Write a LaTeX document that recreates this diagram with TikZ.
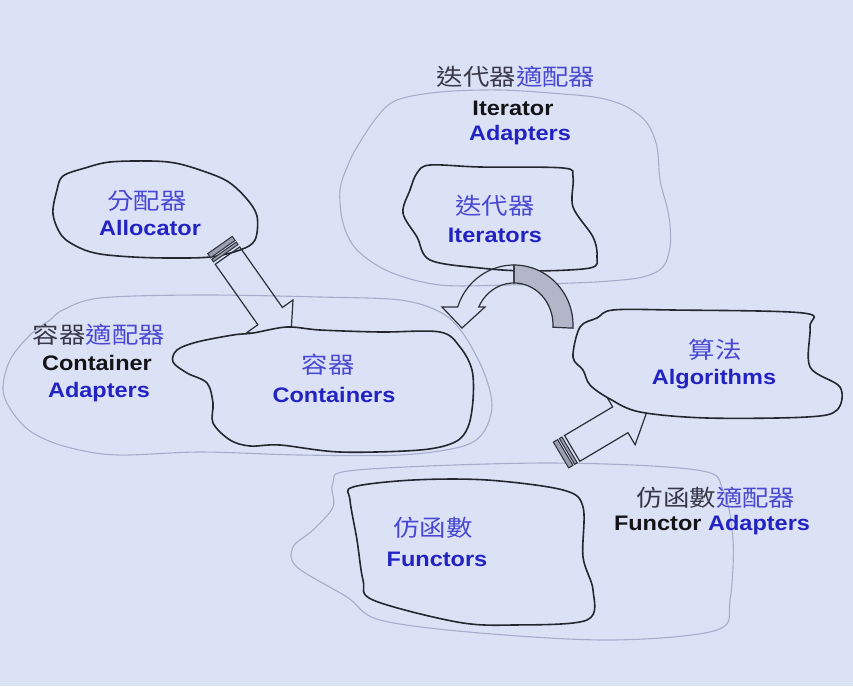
\documentclass[tikz,border=0pt]{standalone}
\usepackage{fontspec}
\newfontfamily\enfont[FakeStretch=1.12]{Liberation Sans}
\newfontfamily\cjkfont[FakeStretch=1.15]{Noto Sans CJK TC}
\definecolor{bg}{HTML}{DCE2F6}
\definecolor{cloudline}{HTML}{23272F}
\definecolor{lightline}{HTML}{A4AECB}
\definecolor{enblue}{HTML}{2323C4}
\definecolor{zhblue}{HTML}{4848D2}
\definecolor{endark}{HTML}{141418}
\definecolor{zhdark}{HTML}{383848}
\definecolor{stripe}{HTML}{9A9EB0}
\definecolor{archgray}{HTML}{B2B6C8}
\definecolor{arrline}{HTML}{2C3038}
\begin{document}
\begin{tikzpicture}[x=1pt,y=-1pt,
  en/.style={font=\enfont\bfseries\fontsize{21}{21}\selectfont, inner sep=0pt, anchor=base, text=enblue},
  zh/.style={font=\cjkfont\fontsize{23}{23}\selectfont, inner sep=0pt, anchor=base, text=zhblue},
  darkcloud/.style={draw=cloudline, line width=1.6pt, fill=bg, line join=round},
  lightcloud/.style={draw=lightline, line width=1.1pt},
  blockarrow/.style={draw=arrline, line width=1.2pt, line join=miter},
  stripebar/.style={draw=arrline, line width=1pt, fill=stripe}]
\fill[bg] (0,0) rectangle (853,686);
\useasboundingbox (0,0) rectangle (853,686);

% light (adapter) clouds
\draw[lightcloud] plot[smooth cycle, tension=0.55] coordinates {(63,310) (100,298) (200,295) (320,297) (400,300) (440,312) (462,332) (483,370) (492,405) (483,433) (460,447) (400,455) (300,455) (200,452) (117,455) (67,447) (33,433) (13,413) (3,390) (10,360) (30,335) (50,320)};
\draw[lightcloud] plot[smooth cycle, tension=0.55] coordinates {(440,92) (500,90) (563,94) (600,98) (627,107) (647,123) (657,147) (660,180) (667,207) (670,225) (670,247) (663,267) (643,277) (610,281) (573,283) (507,285) (440,285) (390,272) (357,250) (343,223) (340,190) (348,165) (357,147) (377,117) (397,100)};
\draw[lightcloud] plot[smooth cycle, tension=0.55] coordinates {(357,470) (547,463) (697,470) (723,490) (733,540) (730,600) (717,630) (613,640) (480,633) (380,620) (347,597) (297,567) (293,547) (313,530) (333,507) (333,483)};

% source clouds
\draw[darkcloud] plot[smooth cycle, tension=0.55] coordinates {(57,190) (63,176) (85,168) (110,162) (150,161) (175,163) (200,170) (227,181) (246,198) (257,216) (255,240) (240,250) (210,257) (170,258) (133,257) (100,254) (80,248) (62,236) (53,214)};
\draw[darkcloud] plot[smooth cycle, tension=0.55] coordinates {(430,165) (480,167) (563,168) (573,177) (573,207) (593,237) (597,257) (590,268) (530,271) (480,268) (430,260) (417,237) (403,213) (410,190) (417,173)};

% block arrow: Allocator -> Containers
\begin{scope}[shift={(220,245)}, rotate=-54.8]
  \coordinate (allocTail) at (0,0);
  \coordinate (allocHead) at (122,0);
  \draw[blockarrow] (13,-15) -- (87,-15) -- (87,-28) -- (allocHead) -- (87,28) -- (87,15) -- (13,15) -- cycle;
  \draw[stripebar] (allocTail) ++(0,-15) rectangle (5,15);
  \draw[stripebar] (7,-15) rectangle (10,15);
\end{scope}

% block arrow: Functors -> Algorithms
\begin{scope}[shift={(561,455)}, rotate=30.7]
  \coordinate (funcTail) at (0,0);
  \coordinate (funcHead) at (104,0);
  \draw[blockarrow] (13,-15) -- (69,-15) -- (69,-29) -- (funcHead) -- (69,29) -- (69,15) -- (13,15) -- cycle;
  \draw[stripebar] (funcTail) ++(0,-15) rectangle (5,15);
  \draw[stripebar] (7,-15) rectangle (10,15);
\end{scope}

% target clouds
\draw[darkcloud] plot[smooth cycle, tension=0.55] coordinates {(197,342) (233,335) (253,333) (287,327) (320,330) (380,332) (440,332) (460,347) (472,370) (473,400) (468,427) (455,442) (420,450) (340,452) (280,445) (250,446) (230,440) (213,423) (213,403) (207,383) (187,373) (173,362) (177,350)};
\draw[darkcloud] plot[smooth cycle, tension=0.55] coordinates {(613,310) (673,310) (803,313) (810,327) (810,367) (840,387) (837,410) (807,417) (707,418) (640,412) (610,399) (590,385) (583,370) (573,357) (580,327) (597,318)};
\draw[darkcloud] plot[smooth cycle, tension=0.55] coordinates {(353,487) (413,480) (487,480) (563,490) (583,507) (583,557) (593,590) (587,620) (513,625) (457,622) (373,600) (363,580) (357,540) (350,500)};

% curved arrow: Iterators -> Containers
\coordinate (arcTip) at (462,328);
\draw[blockarrow, fill=archgray] plot[domain=90:-3, samples=40] ({514+59*cos(\x)},{325-60*sin(\x)}) -- plot[domain=-3:90, samples=40] ({514+39*cos(\x)},{325-42*sin(\x)}) -- cycle;
\draw[blockarrow] plot[domain=90:162.5, samples=40] ({514+59*cos(\x)},{325-60*sin(\x)}) -- (442,307) -- (arcTip) -- (485,307) -- plot[domain=154.6:90, samples=40] ({514+39*cos(\x)},{325-42*sin(\x)}) -- cycle;

% texts
\node[zh] (allocZh) at (147,209) {分配器};
\node[en] (allocEn) at (150,235) {Allocator};
\node[zh] (caZh) at (99,343) {\textcolor{zhdark}{容器}適配器};
\node[en, text=endark] (caEn1) at (97,370) {Container};
\node[en] (caEn2) at (99,397) {Adapters};
\node[zh] (contZh) at (328,373) {容器};
\node[en] (contEn) at (334,402) {Containers};
\node[zh] (iaZh) at (516,85) {\textcolor{zhdark}{迭代器}適配器};
\node[en, text=endark] (iaEn1) at (513,115) {Iterator};
\node[en] (iaEn2) at (520,140) {Adapters};
\node[zh] (itZh) at (495,214) {迭代器};
\node[en] (itEn) at (495,242) {Iterators};
\node[zh] (algZh) at (715,358) {算法};
\node[en] (algEn) at (714,384) {Algorithms};
\node[zh] (faZh) at (716,506) {\textcolor{zhdark}{仿函數}適配器};
\node[en] (faEn) at (712,530) {\textcolor{endark}{Functor} Adapters};
\node[zh] (fnZh) at (433,536) {仿函數};
\node[en] (fnEn) at (437,566) {Functors};
\end{tikzpicture}
\end{document}
